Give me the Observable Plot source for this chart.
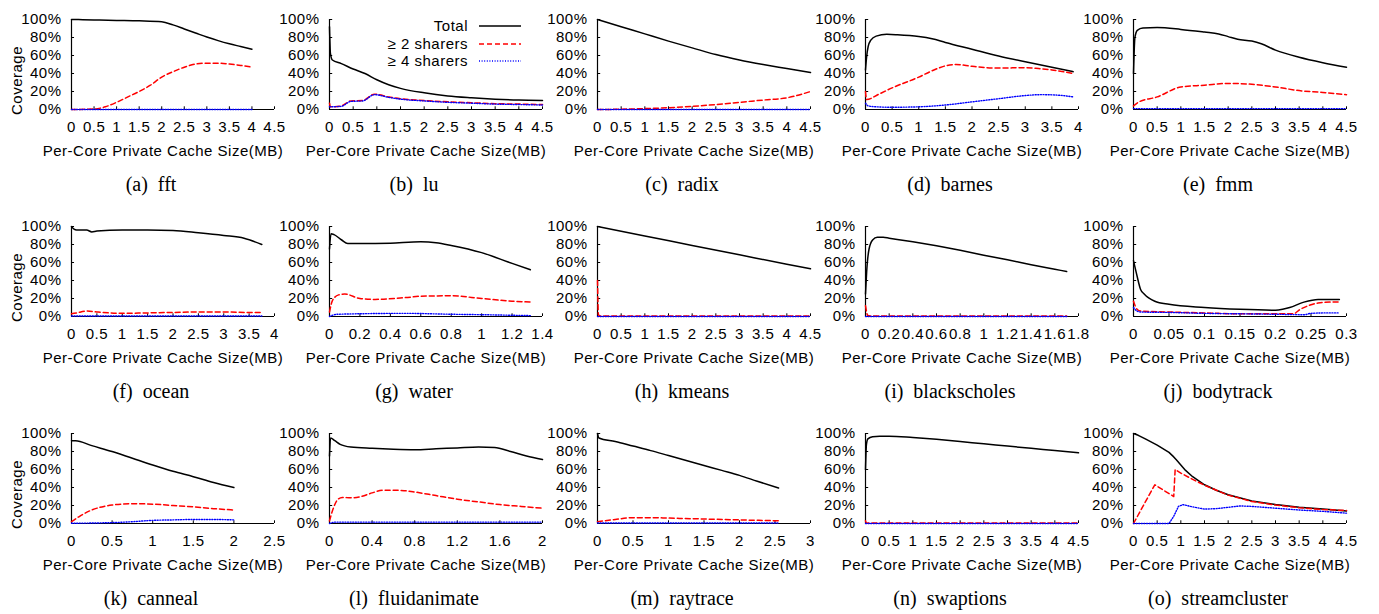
<!DOCTYPE html>
<html><head><meta charset="utf-8">
<script src="https://cdn.jsdelivr.net/npm/d3@7"></script>
<script src="https://cdn.jsdelivr.net/npm/@observablehq/plot@0.6"></script>
<style>body{margin:0;background:#fff}#fig{position:relative;width:1379px;height:614px;overflow:hidden}#fig svg{position:absolute;overflow:visible}</style>
</head><body><div id="fig"></div>
<script>
// ---- tick labels ----
const yTicks = [0, 20, 40, 60, 80, 100];
const ticks45 = [0, 0.5, 1, 1.5, 2, 2.5, 3, 3.5, 4, 4.5];
const ticks40 = [0, 0.5, 1, 1.5, 2, 2.5, 3, 3.5, 4];
const ticks14 = [0, 0.2, 0.4, 0.6, 0.8, 1, 1.2, 1.4];
const ticks18 = [0, 0.2, 0.4, 0.6, 0.8, 1, 1.2, 1.4, 1.6, 1.8];
const ticks03 = [0, 0.05, 0.1, 0.15, 0.2, 0.25, 0.3];
const ticks25 = [0, 0.5, 1, 1.5, 2, 2.5];
const ticks20 = [0, 0.4, 0.8, 1.2, 1.6, 2];
const ticks30 = [0, 0.5, 1, 1.5, 2, 2.5, 3];

// ---- categories ----
const letters = ["a","b","c","d","e","f","g","h","i","j","k","l","m","n","o"];
const names = ["fft","lu","radix","barnes","fmm","ocean","water","kmeans","blackscholes","bodytrack","canneal","fluidanimate","raytrace","swaptions","streamcluster"];
const seriesNames = ["Total", "\u2265 2 sharers", "\u2265 4 sharers"];
const xTitle = "Per-Core Private Cache Size(MB)";
const yTitle = "Coverage";

// ---- series values: [cache size MB, coverage %] ----
const fft_total = [[0,100],[0.25,99.8],[0.5,99.5],[1,99],[1.5,98.5],[2,97.5],[2.25,94],[2.5,89.5],[2.75,85],[3,80.5],[3.25,76.5],[3.5,73],[3.75,70],[4,67]];
const fft_two = [[0,0],[0.5,0.5],[0.75,3],[1,8],[1.25,14],[1.5,20],[1.75,27],[2,36],[2.25,42],[2.5,47],[2.75,50.5],[3,51.5],[3.25,51.5],[3.5,50.5],[3.75,49],[4,47]];
const fft_four = [[0,0],[4,0]];

const lu_total = [[0,92],[0.02,62],[0.06,55],[0.25,51],[0.5,45],[0.75,40],[1,33],[1.25,27.5],[1.5,23.5],[2,18.5],[2.5,15],[3,13],[3.5,11.5],[4,10.5],[4.5,10]];
const lu_two = [[0,7],[0.02,3],[0.25,4],[0.45,9.5],[0.7,10],[0.95,17],[1.25,14],[1.5,12],[2,10],[2.5,8.5],[3,7.5],[3.5,6.5],[4,6],[4.5,5.5]];
const lu_four = [[0,3],[0.25,3.5],[0.45,9],[0.7,9.5],[0.95,16.5],[1.25,13.5],[1.5,11.5],[2,9.5],[2.5,8],[3,7],[3.5,6],[4,5.5],[4.5,5]];

const radix_total = [[0,100],[0.5,92],[1,84],[1.5,76],[2,68.5],[2.5,61],[3,55],[3.5,50],[4,45.5],[4.5,41]];
const radix_two = [[0,0],[0.5,0.3],[1,1],[1.5,2],[2,3.5],[2.5,5.5],[3,8],[3.5,10.5],[4,13],[4.5,20]];
const radix_four = [[0,0],[4.5,0]];

const barnes_total = [[0,44],[0.02,58],[0.05,70],[0.1,77],[0.2,81.5],[0.4,83.5],[0.6,83],[1,81],[1.25,78.5],[1.5,74.5],[2,67],[2.5,59.5],[3,53],[3.5,47],[3.9,42]];
const barnes_two = [[0,20],[0.02,11],[0.25,17],[0.5,24],[1,36],[1.25,43],[1.5,48.5],[1.7,50],[2,48],[2.5,46],[3,46.5],[3.25,45.5],[3.5,44],[3.9,40]];
const barnes_four = [[0,7],[0.05,4],[0.2,3],[0.5,2.5],[1,3],[1.5,5],[2,8.5],[2.5,12],[3,15.5],[3.3,16.5],[3.6,16],[3.9,14]];

const fmm_total = [[0,40],[0.03,80],[0.08,88],[0.2,90.5],[0.5,91],[1,89],[1.5,86],[1.8,84],[2,81],[2.2,78],[2.5,76],[2.7,73],[3,66],[3.5,58],[4,52],[4.5,47]];
const fmm_two = [[0,4],[0.1,8],[0.5,14],[1,25],[1.5,27],[2,29],[2.5,28],[3,25],[3.5,21],[4,19],[4.5,16.5]];
const fmm_four = [[0,1],[4.5,1]];

const ocean_total = [[0,100],[0.05,97],[0.1,96],[0.3,96],[0.4,94],[0.5,95],[1,96],[1.5,96],[2,95.5],[2.5,93],[3,90],[3.4,87],[3.75,80]];
const ocean_two = [[0,3],[0.1,4],[0.3,6],[0.5,5],[1,3.5],[1.5,4],[2,4.5],[2.5,5],[3,5],[3.5,4.5],[3.75,4.5]];
const ocean_four = [[0,0.5],[3.75,0.5]];

const water_total = [[0,75],[0.01,92],[0.03,91],[0.08,85],[0.12,81],[0.2,81],[0.4,81.5],[0.6,83],[0.7,82],[0.8,79],[1,71],[1.2,59],[1.32,52]];
const water_two = [[0,5],[0.02,18],[0.06,24],[0.1,25],[0.2,20],[0.3,19],[0.5,21],[0.6,22.5],[0.8,23],[1,20],[1.2,17],[1.32,16]];
const water_four = [[0,0],[0.05,2.5],[0.5,3.5],[0.8,2.5],[1,2],[1.32,1]];

const kmeans_total = [[0,100],[1,89.5],[2,79],[3,68.5],[4,58],[4.5,53]];
const kmeans_two = [[0,40],[0.02,2],[0.06,0.5],[4.5,0.5]];
const kmeans_four = [[0,0],[4.5,0]];

const blackscholes_total = [[0,25],[0.01,50],[0.03,75],[0.06,85],[0.1,88],[0.15,88],[0.2,87],[0.4,83],[0.6,78.5],[0.8,73.5],[1,68],[1.2,63],[1.4,57.5],[1.6,52.5],[1.7,50]];
const blackscholes_two = [[0,12],[0.02,1],[0.05,0.5],[1.7,0.5]];
const blackscholes_four = [[0,0],[1.7,0]];

const bodytrack_total = [[0,62],[0.005,45],[0.01,30],[0.015,25],[0.03,17],[0.05,13.5],[0.1,10],[0.15,8],[0.2,7],[0.21,8],[0.22,10],[0.24,16],[0.26,19],[0.29,19]];
const bodytrack_two = [[0,17],[0.005,8],[0.01,6],[0.05,5],[0.1,4],[0.15,3],[0.2,3],[0.225,3],[0.235,8],[0.25,13],[0.26,15],[0.28,16],[0.29,16]];
const bodytrack_four = [[0,10],[0.005,6],[0.01,5],[0.05,4.5],[0.1,3.5],[0.15,3],[0.2,2.5],[0.24,2],[0.25,3.5],[0.27,4],[0.29,4]];

const canneal_total = [[0,92],[0.05,92],[0.25,86.5],[0.5,80],[0.75,72.5],[1,65],[1.25,58],[1.5,52],[1.75,45.5],[2,40]];
const canneal_two = [[0,2],[0.1,8],[0.25,15],[0.4,19],[0.5,20.5],[0.75,22],[1,21.5],[1.25,20],[1.5,18.5],[1.75,16.5],[2,15]];
const canneal_four = [[0,0.3],[0.5,1],[0.75,2],[1,3.5],[1.25,4],[1.5,4.5],[1.75,4.5],[2,4]];

const fluidanimate_total = [[0,75],[0.01,95],[0.05,92],[0.1,88],[0.2,85],[0.4,83.5],[0.6,82.5],[0.8,82],[1,83],[1.2,84],[1.4,85],[1.55,84.5],[1.7,80],[1.85,75],[2,71]];
const fluidanimate_two = [[0,3],[0.03,15],[0.08,27],[0.12,29],[0.2,28.5],[0.3,30],[0.4,34],[0.5,37],[0.6,37],[0.7,36.5],[0.8,35],[1,31],[1.2,27],[1.4,24],[1.6,21],[1.8,19],[2,17]];
const fluidanimate_four = [[0,0],[0.05,1.5],[2,1.5]];

const raytrace_total = [[0,100],[0.02,95],[0.25,91],[0.5,86],[0.75,81],[1,75.5],[1.25,70],[1.5,64.5],[1.75,59],[2,53.5],[2.25,47],[2.55,39.5]];
const raytrace_two = [[0,2],[0.25,4.5],[0.5,6.5],[0.75,6.5],[1,6],[1.5,5],[2,4],[2.55,3]];
const raytrace_four = [[0,0.5],[2.55,0.5]];

const swaptions_total = [[0,60],[0.02,88],[0.05,94],[0.15,96.5],[0.3,97],[0.5,97],[1,95.5],[1.5,93.5],[2,91],[2.5,88.5],[3,86],[3.5,83.5],[4,81],[4.5,78.5]];
const swaptions_two = [[0,3],[0.02,0.5],[4.5,0.5]];
const swaptions_four = [[0,0],[4.5,0]];

const streamcluster_total = [[0,100],[0.1,98],[0.25,94],[0.5,87],[0.75,79],[0.85,74],[0.9,71],[1,65],[1.1,59],[1.25,52],[1.5,43],[1.75,37],[2,32],[2.5,25],[3,21],[3.5,18],[4,16],[4.5,14]];
const streamcluster_two = [[0,0],[0.45,43],[0.85,30],[0.88,60],[1,56],[1.25,49],[1.5,42.5],[2,31.5],[2.5,24.5],[3,20.5],[3.5,17.5],[4,15.5],[4.5,14.5]];
const streamcluster_four = [[0,0],[0.75,0],[0.85,8],[0.95,19],[1.05,21],[1.2,19],[1.5,16],[1.75,16.5],[2,18],[2.25,19.5],[2.5,19],[3,17],[3.5,15],[4,13.5],[4.5,11.5]];

// ---- panel table built from the arrays above ----
const panels = [
  [fft_total, fft_two, fft_four, ticks45],
  [lu_total, lu_two, lu_four, ticks45],
  [radix_total, radix_two, radix_four, ticks45],
  [barnes_total, barnes_two, barnes_four, ticks40],
  [fmm_total, fmm_two, fmm_four, ticks45],
  [ocean_total, ocean_two, ocean_four, ticks40],
  [water_total, water_two, water_four, ticks14],
  [kmeans_total, kmeans_two, kmeans_four, ticks45],
  [blackscholes_total, blackscholes_two, blackscholes_four, ticks18],
  [bodytrack_total, bodytrack_two, bodytrack_four, ticks03],
  [canneal_total, canneal_two, canneal_four, ticks25],
  [fluidanimate_total, fluidanimate_two, fluidanimate_four, ticks20],
  [raytrace_total, raytrace_two, raytrace_four, ticks30],
  [swaptions_total, swaptions_two, swaptions_four, ticks45],
  [streamcluster_total, streamcluster_two, streamcluster_four, ticks45]
];

const styles = [
  {stroke: "#000000", strokeWidth: 1.5},
  {stroke: "#ff0000", strokeWidth: 1.5, strokeDasharray: "5,3"},
  {stroke: "#0000ff", strokeWidth: 1.4, strokeDasharray: "1,1.6"}
];

const fig = document.getElementById("fig");
const W = 290, H = 200, colStep = 268, rowStep = 207;
const serif = "'Liberation Serif', 'Times New Roman', serif";

panels.forEach((p, k) => {
  const col = k % 5, row = Math.floor(k / 5);
  const [tot, two, four, xt] = p;
  const xmax = xt[xt.length - 1];
  const curve = names[k] === "streamcluster" ? "linear" : "monotone-x";
  const marks = [
    Plot.axisX({ticks: xt, tickSize: 0, tickPadding: 12, tickFormat: d => String(d), label: null}),
    Plot.axisY({ticks: yTicks, tickSize: 0, tickPadding: 10, tickFormat: d => d + "%", label: null}),
    Plot.ruleX(xt, {x: d => d, y1: 0, y2: 3, stroke: "#000", strokeWidth: 1}),
    Plot.ruleY(yTicks, {y: d => d, x1: 0, x2: xmax * 0.015, stroke: "#000", strokeWidth: 1}),
    Plot.ruleY([0], {stroke: "#000", strokeWidth: 1.2}),
    Plot.ruleX([0], {stroke: "#000", strokeWidth: 1.2}),
    Plot.line(tot, {curve, ...styles[0]}),
    Plot.line(two, {curve, ...styles[1]}),
    Plot.line(four, {curve, ...styles[2]}),
    Plot.text([xTitle], {text: d => d, frameAnchor: "bottom", dy: 42, dx: -10, lineAnchor: "middle", fill: "#000"}),
    Plot.text([`(${letters[k]})\u00a0\u00a0${names[k]}`], {text: d => d, frameAnchor: "bottom", dy: 75, dx: -22, lineAnchor: "middle", fontFamily: serif, fontSize: 20, fill: "#000"})
  ];
  if (col === 0) {
    marks.push(Plot.text([yTitle], {text: d => d, frameAnchor: "left", rotate: -90, dx: -54, dy: 16, lineAnchor: "middle", textAnchor: "middle", fill: "#000"}));
  }
  const svg = Plot.plot({
    width: W, height: H,
    marginLeft: col === 0 ? 71 : 61, marginRight: 16, marginTop: 19, marginBottom: 91,
    x: {domain: [0, xmax]},
    y: {domain: [0, 100]},
    style: {fontFamily: "'Liberation Sans', Arial, sans-serif", fontSize: "15px", letterSpacing: "0.5px", color: "#000", background: "transparent", overflow: "visible"},
    marks
  });
  d3.select(svg).selectAll("g[font-family*='Serif']").attr("letter-spacing", "0");
  svg.style.left = (col * colStep) + "px";
  svg.style.top = (row * rowStep) + "px";
  if (k === 1) {
    const g = d3.select(svg).append("g").attr("font-size", 15);
    const rowsY = [26, 44, 61];
    seriesNames.forEach((s, i) => {
      g.append("text").attr("x", 200).attr("y", rowsY[i]).attr("text-anchor", "end").attr("dy", "0.35em").attr("fill", "#000").text(s);
      const ln = g.append("line").attr("x1", 211).attr("x2", 253).attr("y1", rowsY[i]).attr("y2", rowsY[i])
        .attr("stroke", styles[i].stroke).attr("stroke-width", styles[i].strokeWidth);
      if (styles[i].strokeDasharray) ln.attr("stroke-dasharray", styles[i].strokeDasharray);
    });
  }
  fig.appendChild(svg);
});
</script></body></html>
